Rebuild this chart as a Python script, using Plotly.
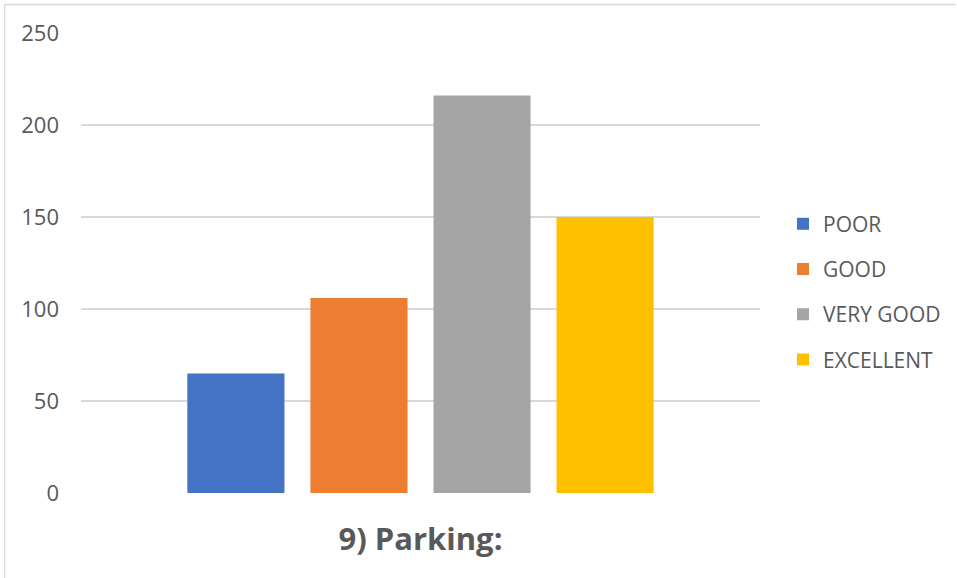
import plotly.graph_objects as go

# Survey responses for question 9 (Parking)
categories = ["POOR", "GOOD", "VERY GOOD", "EXCELLENT"]
counts = [65, 106, 216, 150]
colors = ["#4472C4", "#ED7D31", "#A5A5A5", "#FFC000"]
y_ticks = [0, 50, 100, 150, 200, 250]
title_text = "9) Parking:"

W, H = 957, 578
ML, MR, MT, MB = 81, 196, 33, 85
PW, PH = W - ML - MR, H - MT - MB


def px_x(p):
    return (p - ML) / PW


def px_y(p):
    return (H - MB - p) / PH


fig = go.Figure()
for name, val, col in zip(categories, counts, colors):
    fig.add_trace(go.Bar(
        x=[title_text], y=[val], name=name, marker_color=col,
        marker_line_width=0, legendgroup=name,
    ))

text_col = "#595959"
fig.update_layout(
    width=W, height=H,
    margin=dict(l=ML, r=MR, t=MT, b=MB, pad=0),
    paper_bgcolor="white", plot_bgcolor="white",
    barmode="group", bargap=0.275, bargroupgap=0.211,
    font=dict(family="Open Sans", color=text_col, size=21),
    showlegend=True,
    legend=dict(
        x=px_x(783), xanchor="left", y=px_y(292), yanchor="middle",
        font=dict(size=21, color=text_col), tracegroupgap=15,
        bgcolor="rgba(0,0,0,0)",
    ),
    xaxis=dict(
        showticklabels=True, showgrid=False, zeroline=False, showline=False,
        tickfont=dict(size=31, color=text_col, family="Open Sans", weight="bold"),
        ticks="", fixedrange=True, ticklabelstandoff=25,
    ),
    yaxis=dict(
        range=[0, 250], tickvals=y_ticks, showgrid=True,
        gridcolor="#D9D9D9", gridwidth=2, zeroline=False, showline=False,
        tickfont=dict(size=22, color=text_col), ticks="",
        ticklabelstandoff=21,
    ),
    shapes=[
        dict(type="line", xref="paper", yref="paper",
             x0=px_x(4.5), x1=px_x(W), y0=px_y(4.5), y1=px_y(4.5),
             line=dict(color="#D9D9D9", width=1.5)),
        dict(type="line", xref="paper", yref="paper",
             x0=px_x(4.5), x1=px_x(4.5), y0=px_y(4.5), y1=px_y(H),
             line=dict(color="#D9D9D9", width=1.5)),
    ],
)

fig.write_html("out.html")
